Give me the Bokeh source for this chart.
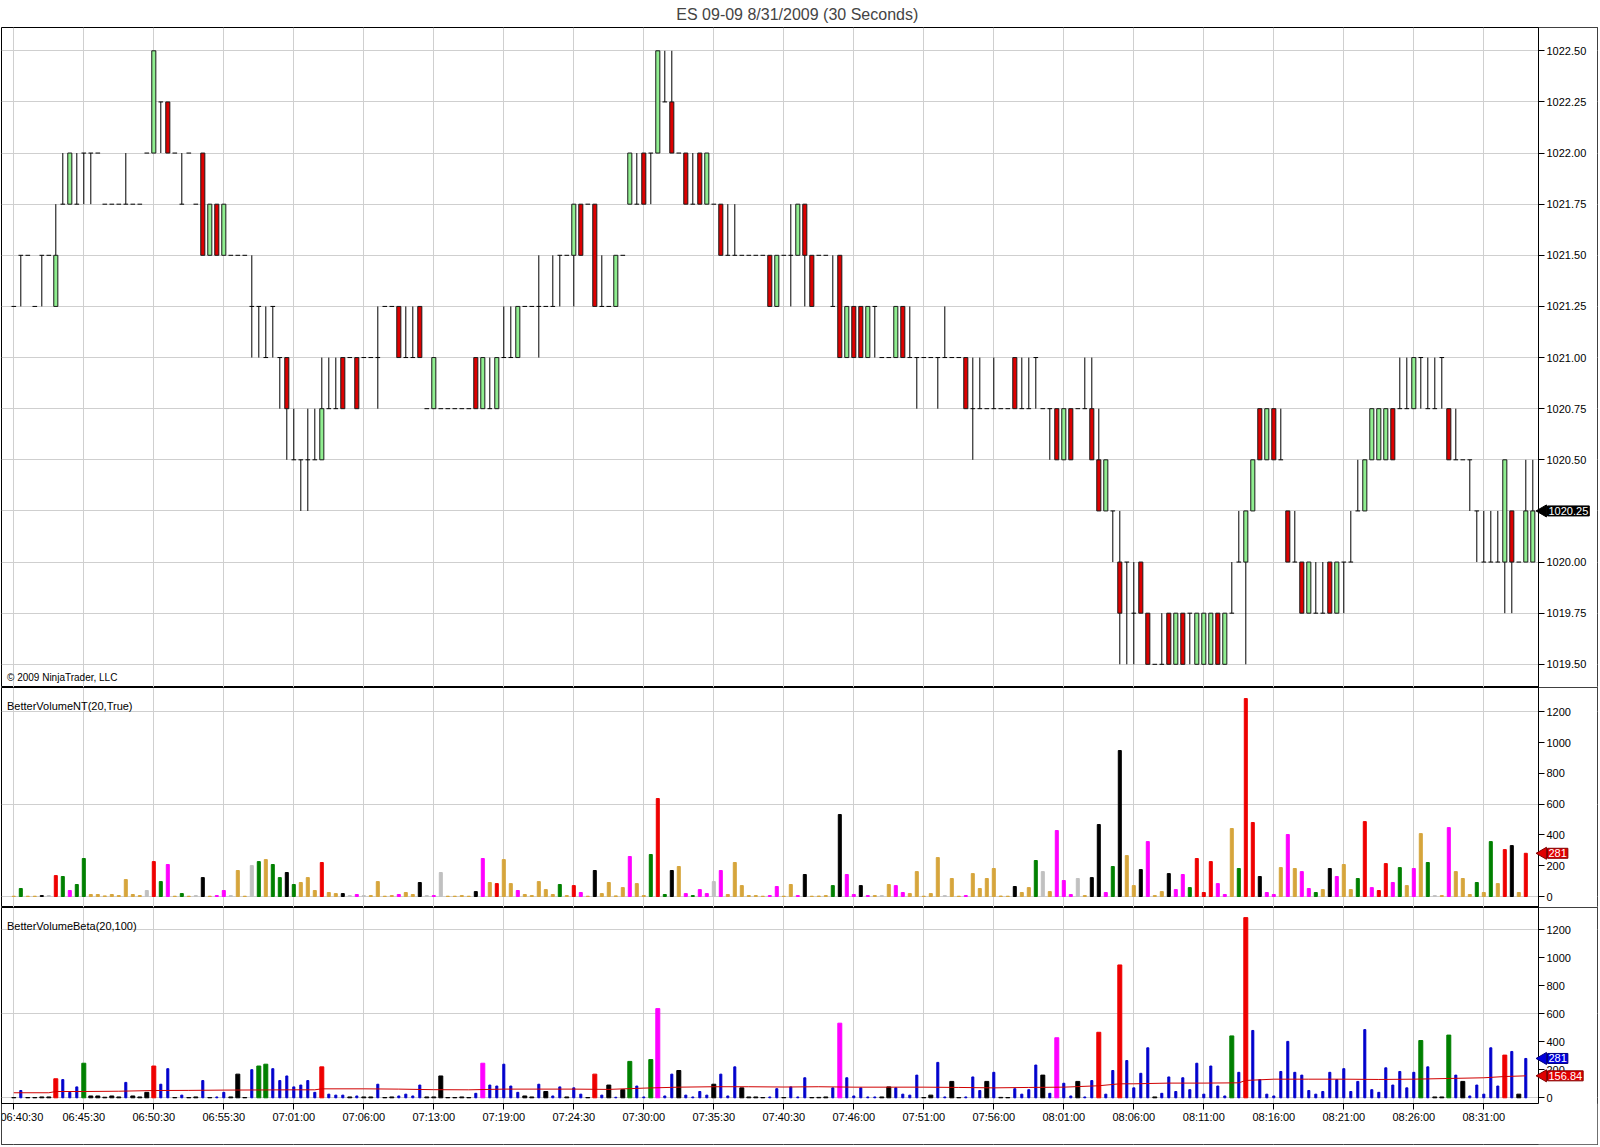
import math
from bokeh.plotting import figure
from bokeh.models import (Range1d, FixedTicker, Label, ColumnDataSource,
                          NumeralTickFormatter, BoxAnnotation)
from bokeh.layouts import column
from bokeh.embed import file_html
from bokeh.resources import INLINE

# ---------------- data ----------------
title_text = "ES 09-09  8/31/2009 (30 Seconds)"
time_labels = ["06:40:30", "06:45:30", "06:50:30", "06:55:30", "07:01:00", "07:06:00",
               "07:13:00", "07:19:00", "07:24:30", "07:30:00", "07:35:30", "07:40:30",
               "07:46:00", "07:51:00", "07:56:00", "08:01:00", "08:06:00", "08:11:00",
               "08:16:00", "08:21:00", "08:26:00", "08:31:00"]
label_bars = [0, 10, 20, 30, 40, 50, 60, 70, 80, 90, 100, 110, 120, 130, 140, 150,
              160, 170, 180, 190, 200, 210]
price_ticks = [1019.5, 1019.75, 1020.0, 1020.25, 1020.5, 1020.75, 1021.0, 1021.25,
               1021.5, 1021.75, 1022.0, 1022.25, 1022.5]
volume_ticks = [0, 200, 400, 600, 800, 1000, 1200]
volume_grid = [0, 600, 1200]

bar_open = [
    1021.25, 1021.5, 1021.5, 1021.25, 1021.5, 1021.5, 1021.25, 1021.75, 1021.75, 1021.75,
    1022.0, 1022.0, 1022.0, 1021.75, 1021.75, 1021.75, 1021.75, 1021.75, 1021.75, 1022.0,
    1022.0, 1022.25, 1022.25, 1022.0, 1021.75, 1022.0, 1021.75, 1022.0, 1021.5, 1021.75,
    1021.5, 1021.5, 1021.5, 1021.5, 1021.25, 1021.25, 1021.0, 1021.25, 1021.0, 1021.0,
    1020.5, 1020.5, 1020.5, 1020.5, 1020.5, 1020.75, 1020.75, 1021.0, 1021.0, 1021.0,
    1021.0, 1021.0, 1021.0, 1021.25, 1021.25, 1021.25, 1021.0, 1021.0, 1021.25, 1020.75,
    1020.75, 1020.75, 1020.75, 1020.75, 1020.75, 1020.75, 1021.0, 1020.75, 1020.75, 1020.75,
    1021.0, 1021.0, 1021.0, 1021.25, 1021.25, 1021.25, 1021.25, 1021.25, 1021.5, 1021.5,
    1021.5, 1021.75, 1021.75, 1021.75, 1021.25, 1021.25, 1021.25, 1021.5, 1021.75, 1021.75,
    1022.0, 1022.0, 1022.0, 1022.25, 1022.25, 1022.0, 1022.0, 1021.75, 1022.0, 1021.75,
    1021.75, 1021.75, 1021.5, 1021.5, 1021.5, 1021.5, 1021.5, 1021.5, 1021.5, 1021.25,
    1021.5, 1021.5, 1021.5, 1021.75, 1021.5, 1021.5, 1021.5, 1021.25, 1021.5, 1021.0,
    1021.25, 1021.25, 1021.0, 1021.25, 1021.0, 1021.0, 1021.0, 1021.25, 1021.0, 1021.0,
    1021.0, 1021.0, 1021.0, 1021.0, 1021.0, 1021.0, 1021.0, 1020.75, 1020.75, 1020.75,
    1020.75, 1020.75, 1020.75, 1021.0, 1020.75, 1020.75, 1021.0, 1020.75, 1020.75, 1020.75,
    1020.5, 1020.75, 1020.75, 1020.75, 1020.75, 1020.5, 1020.25, 1020.25, 1020.0, 1020.0,
    1019.75, 1020.0, 1019.75, 1019.5, 1019.5, 1019.75, 1019.5, 1019.75, 1019.75, 1019.5,
    1019.5, 1019.5, 1019.75, 1019.5, 1019.75, 1020.0, 1020.0, 1020.25, 1020.75, 1020.5,
    1020.75, 1020.5, 1020.25, 1020.0, 1020.0, 1019.75, 1019.75, 1019.75, 1020.0, 1019.75,
    1020.0, 1020.0, 1020.25, 1020.25, 1020.5, 1020.5, 1020.5, 1020.75, 1020.75, 1020.75,
    1020.75, 1021.0, 1020.75, 1020.75, 1021.0, 1020.75, 1020.5, 1020.5, 1020.5, 1020.25,
    1020.0, 1020.0, 1020.0, 1020.0, 1020.25, 1020.0, 1020.0, 1020.0]
bar_high = [
    1021.25, 1021.5, 1021.5, 1021.25, 1021.5, 1021.5, 1021.75, 1022.0, 1022.0, 1022.0,
    1022.0, 1022.0, 1022.0, 1021.75, 1021.75, 1021.75, 1022.0, 1021.75, 1021.75, 1022.0,
    1022.5, 1022.25, 1022.25, 1022.0, 1022.0, 1022.0, 1021.75, 1022.0, 1021.75, 1021.75,
    1021.75, 1021.5, 1021.5, 1021.5, 1021.5, 1021.25, 1021.25, 1021.25, 1021.0, 1021.0,
    1020.75, 1020.5, 1020.75, 1020.75, 1021.0, 1021.0, 1021.0, 1021.0, 1021.0, 1021.0,
    1021.0, 1021.0, 1021.25, 1021.25, 1021.25, 1021.25, 1021.25, 1021.25, 1021.25, 1020.75,
    1021.0, 1020.75, 1020.75, 1020.75, 1020.75, 1020.75, 1021.0, 1021.0, 1021.0, 1021.0,
    1021.25, 1021.25, 1021.25, 1021.25, 1021.25, 1021.5, 1021.25, 1021.5, 1021.5, 1021.5,
    1021.75, 1021.75, 1021.75, 1021.75, 1021.5, 1021.25, 1021.5, 1021.5, 1022.0, 1022.0,
    1022.0, 1022.0, 1022.5, 1022.5, 1022.5, 1022.0, 1022.0, 1022.0, 1022.0, 1022.0,
    1021.75, 1021.75, 1021.75, 1021.75, 1021.5, 1021.5, 1021.5, 1021.5, 1021.5, 1021.5,
    1021.5, 1021.75, 1021.75, 1021.75, 1021.5, 1021.5, 1021.5, 1021.5, 1021.5, 1021.25,
    1021.25, 1021.25, 1021.25, 1021.25, 1021.0, 1021.0, 1021.25, 1021.25, 1021.25, 1021.0,
    1021.0, 1021.0, 1021.0, 1021.25, 1021.0, 1021.0, 1021.0, 1021.0, 1021.0, 1020.75,
    1021.0, 1020.75, 1020.75, 1021.0, 1021.0, 1021.0, 1021.0, 1020.75, 1020.75, 1020.75,
    1020.75, 1020.75, 1020.75, 1021.0, 1021.0, 1020.75, 1020.5, 1020.25, 1020.25, 1020.0,
    1020.0, 1020.0, 1019.75, 1019.5, 1019.75, 1019.75, 1019.75, 1019.75, 1019.75, 1019.75,
    1019.75, 1019.75, 1019.75, 1019.75, 1020.0, 1020.25, 1020.25, 1020.5, 1020.75, 1020.75,
    1020.75, 1020.75, 1020.25, 1020.25, 1020.0, 1020.0, 1020.0, 1020.0, 1020.0, 1020.0,
    1020.0, 1020.25, 1020.5, 1020.5, 1020.75, 1020.75, 1020.75, 1020.75, 1021.0, 1021.0,
    1021.0, 1021.0, 1021.0, 1021.0, 1021.0, 1020.75, 1020.75, 1020.5, 1020.5, 1020.25,
    1020.25, 1020.25, 1020.25, 1020.5, 1020.25, 1020.0, 1020.5, 1020.5]
bar_low = [
    1021.25, 1021.25, 1021.5, 1021.25, 1021.25, 1021.5, 1021.25, 1021.75, 1021.75, 1021.75,
    1021.75, 1021.75, 1022.0, 1021.75, 1021.75, 1021.75, 1021.75, 1021.75, 1021.75, 1022.0,
    1022.0, 1022.0, 1022.0, 1022.0, 1021.75, 1022.0, 1021.75, 1021.5, 1021.5, 1021.5,
    1021.5, 1021.5, 1021.5, 1021.5, 1021.0, 1021.0, 1021.0, 1021.0, 1020.75, 1020.5,
    1020.5, 1020.25, 1020.25, 1020.5, 1020.5, 1020.75, 1020.75, 1020.75, 1021.0, 1020.75,
    1021.0, 1021.0, 1020.75, 1021.25, 1021.25, 1021.0, 1021.0, 1021.0, 1021.0, 1020.75,
    1020.75, 1020.75, 1020.75, 1020.75, 1020.75, 1020.75, 1020.75, 1020.75, 1020.75, 1020.75,
    1021.0, 1021.0, 1021.0, 1021.25, 1021.25, 1021.0, 1021.25, 1021.25, 1021.25, 1021.5,
    1021.25, 1021.5, 1021.75, 1021.25, 1021.25, 1021.25, 1021.25, 1021.5, 1021.75, 1021.75,
    1021.75, 1021.75, 1022.0, 1022.25, 1022.0, 1022.0, 1021.75, 1021.75, 1021.75, 1021.75,
    1021.75, 1021.5, 1021.5, 1021.5, 1021.5, 1021.5, 1021.5, 1021.5, 1021.25, 1021.25,
    1021.5, 1021.25, 1021.5, 1021.25, 1021.25, 1021.5, 1021.5, 1021.25, 1021.0, 1021.0,
    1021.0, 1021.0, 1021.0, 1021.0, 1021.0, 1021.0, 1021.0, 1021.0, 1021.0, 1020.75,
    1021.0, 1021.0, 1020.75, 1021.0, 1021.0, 1021.0, 1020.75, 1020.5, 1020.75, 1020.75,
    1020.75, 1020.75, 1020.75, 1020.75, 1020.75, 1020.75, 1020.75, 1020.75, 1020.5, 1020.5,
    1020.5, 1020.5, 1020.75, 1020.75, 1020.5, 1020.25, 1020.25, 1020.0, 1019.5, 1019.5,
    1019.5, 1019.75, 1019.5, 1019.5, 1019.5, 1019.5, 1019.5, 1019.5, 1019.5, 1019.5,
    1019.5, 1019.5, 1019.5, 1019.5, 1019.75, 1020.0, 1019.5, 1020.25, 1020.5, 1020.5,
    1020.5, 1020.5, 1020.0, 1020.0, 1019.75, 1019.75, 1019.75, 1019.75, 1019.75, 1019.75,
    1019.75, 1020.0, 1020.25, 1020.25, 1020.5, 1020.5, 1020.5, 1020.5, 1020.75, 1020.75,
    1020.75, 1020.75, 1020.75, 1020.75, 1020.75, 1020.5, 1020.5, 1020.5, 1020.25, 1020.0,
    1020.0, 1020.0, 1020.0, 1019.75, 1019.75, 1020.0, 1020.0, 1020.0]
bar_close = [
    1021.25, 1021.5, 1021.5, 1021.25, 1021.5, 1021.5, 1021.5, 1021.75, 1022.0, 1021.75,
    1022.0, 1022.0, 1022.0, 1021.75, 1021.75, 1021.75, 1021.75, 1021.75, 1021.75, 1022.0,
    1022.5, 1022.25, 1022.0, 1022.0, 1021.75, 1022.0, 1021.75, 1021.5, 1021.75, 1021.5,
    1021.75, 1021.5, 1021.5, 1021.5, 1021.25, 1021.25, 1021.0, 1021.25, 1021.0, 1020.75,
    1020.5, 1020.5, 1020.5, 1020.5, 1020.75, 1020.75, 1020.75, 1020.75, 1021.0, 1020.75,
    1021.0, 1021.0, 1021.0, 1021.25, 1021.25, 1021.0, 1021.0, 1021.0, 1021.0, 1020.75,
    1021.0, 1020.75, 1020.75, 1020.75, 1020.75, 1020.75, 1020.75, 1021.0, 1020.75, 1021.0,
    1021.0, 1021.0, 1021.25, 1021.25, 1021.25, 1021.25, 1021.25, 1021.25, 1021.5, 1021.5,
    1021.75, 1021.5, 1021.75, 1021.25, 1021.25, 1021.25, 1021.5, 1021.5, 1022.0, 1021.75,
    1021.75, 1022.0, 1022.5, 1022.25, 1022.0, 1022.0, 1021.75, 1021.75, 1021.75, 1022.0,
    1021.75, 1021.5, 1021.5, 1021.5, 1021.5, 1021.5, 1021.5, 1021.5, 1021.25, 1021.5,
    1021.5, 1021.5, 1021.75, 1021.5, 1021.25, 1021.5, 1021.5, 1021.25, 1021.0, 1021.25,
    1021.0, 1021.0, 1021.25, 1021.25, 1021.0, 1021.0, 1021.25, 1021.0, 1021.0, 1021.0,
    1021.0, 1021.0, 1021.0, 1021.0, 1021.0, 1021.0, 1020.75, 1020.75, 1020.75, 1020.75,
    1020.75, 1020.75, 1020.75, 1020.75, 1020.75, 1020.75, 1021.0, 1020.75, 1020.75, 1020.5,
    1020.75, 1020.5, 1020.75, 1020.75, 1020.5, 1020.25, 1020.5, 1020.25, 1019.75, 1020.0,
    1019.75, 1019.75, 1019.5, 1019.5, 1019.5, 1019.5, 1019.75, 1019.5, 1019.75, 1019.75,
    1019.75, 1019.75, 1019.5, 1019.75, 1019.75, 1020.0, 1020.25, 1020.5, 1020.5, 1020.75,
    1020.5, 1020.5, 1020.0, 1020.0, 1019.75, 1020.0, 1019.75, 1019.75, 1019.75, 1020.0,
    1020.0, 1020.0, 1020.25, 1020.5, 1020.75, 1020.75, 1020.75, 1020.5, 1020.75, 1020.75,
    1021.0, 1021.0, 1020.75, 1020.75, 1021.0, 1020.5, 1020.5, 1020.5, 1020.5, 1020.25,
    1020.0, 1020.0, 1020.0, 1020.5, 1020.0, 1020.0, 1020.25, 1020.25]

volume = [
    2, 52, 2, 2, 6, 6, 136, 130, 39, 78,
    247, 13, 13, 4, 13, 6, 110, 13, 6, 39,
    227, 97, 208, 2, 19, 2, 6, 123, 2, 6,
    39, 6, 169, 2, 201, 227, 240, 208, 123, 156,
    78, 91, 123, 39, 221, 26, 19, 19, 6, 13,
    6, 6, 97, 2, 6, 13, 26, 13, 91, 6,
    6, 156, 2, 2, 6, 2, 32, 247, 91, 84,
    240, 84, 39, 13, 6, 97, 45, 13, 78, 6,
    71, 26, 2, 169, 19, 91, 4, 58, 260, 84,
    6, 273, 637, 13, 169, 195, 19, 6, 45, 19,
    97, 169, 13, 221, 71, 6, 6, 2, 6, 65,
    2, 78, 6, 143, 2, 3, 6, 71, 533, 143,
    13, 71, 6, 6, 6, 78, 71, 26, 19, 162,
    2, 19, 253, 6, 117, 2, 6, 149, 52, 117,
    182, 3, 2, 65, 26, 58, 234, 162, 32, 429,
    104, 13, 117, 6, 123, 468, 26, 195, 949, 266,
    71, 175, 357, 6, 32, 149, 45, 143, 58, 247,
    26, 227, 84, 13, 442, 182, 1287, 481, 130, 26,
    13, 188, 403, 182, 162, 52, 26, 45, 182, 130,
    208, 45, 117, 487, 58, 39, 214, 91, 188, 71,
    182, 409, 221, 6, 6, 448, 162, 117, 13, 91,
    26, 357, 84, 305, 331, 26, 281]

# BetterVolumeNT colour class per bar (G up, R climax, M churn, K black, T low, S neutral)
nt_class = list(
    "TGTTKSRGMG" "GTTTTTTTTS" "RGMTGTSKTM" "MSTTSGTGGK" "GTTTRTTKSM"
    "STTTTMTTKS" "MSTTTTKMTR" "TTMTTTTTGT" "RMTKTTTTMT" "TGRGKTMGMM"
    "SMTTTTTTMM" "TTMKTTTGKM" "MKMTSTMMTT" "TTTSTTMTTT" "TTTKTTGSTM"
    "MMSTKKMGKT" "TKMTTKMMGR" "RRMMTGRRKM" "MTMTMMGTKM" "TTGRMRRMGT"
    "MTGSTMTTTG" "TGTRKTR")
# BetterVolumeBeta colour class per bar (B normal, R, G, M, K)
beta_class = list(
    "KBKKKKRBBB" "GKKKKKBKKK" "RBBKBKKBKB" "BKKKBGGBBB" "BBBBRBBBKB"
    "KKBKKBBBBK" "KKKKKKBMBB" "BBBKKBKBBK" "BBKRBKBKGB" "BGMBBKBBBB"
    "KBBBKKKKBB" "KBBBKKKBMB" "BBBBKKBBBB" "KKBBKKBBBK" "BKKBBBBKBM"
    "BBKBBRBBRB" "BBBKBBBBBB" "BBBBGBRBBB" "BBBBBBBBBB" "BBBBBBBBBB"
    "BGBKKGBKBB" "BBBRBKB")

ma_bar = [0, 5, 6, 10, 15, 20, 25, 30, 35, 40, 43, 44, 50, 55, 60, 65, 70, 75, 80, 85,
          90, 95, 100, 105, 110, 115, 120, 125, 130, 135, 140, 145, 150, 155, 158, 160,
          165, 170, 175, 176, 180, 185, 190, 195, 200, 205, 210, 213, 216]
ma_value = [36, 36, 45, 45, 47, 52, 53, 55, 56, 57, 57, 64, 64, 62, 58, 57, 62, 62, 62, 60,
            69, 76, 79, 79, 77, 79, 76, 76, 76, 74, 71, 74, 76, 86, 100, 100,
            105, 105, 107, 124, 133, 133, 133, 131, 133, 138, 143, 152, 156.84]

# ---------------- styling / layout ----------------
nt_palette = {"G": "#008000", "R": "#ee0000", "M": "#ff00ff", "K": "#000000",
              "T": "#d6a53c", "S": "#c0c0c0"}
beta_palette = {"B": "#0000cc", "R": "#ee0000", "G": "#008000", "M": "#ff00ff", "K": "#000000"}
GRID = "#cfcfcf"
FONT = "Liberation Sans"

W = 1598                 # whole chart width (frame spans it, axis drawn inside)
FRAME_W = W - 2          # 1px border each side
BAR_PX = 7.0
X0 = -12.3 / BAR_PX      # bar 0 sits 12.3px right of the frame edge
X1 = X0 + FRAME_W / BAR_PX
XA = X0 + 1537.0 / BAR_PX  # position of the price/volume axis line
xr = Range1d(X0, X1)

PRICE_PX = 204.5
PRICE_TOP = 1022.5 + 23.3 / PRICE_PX
PRICE_BOT = PRICE_TOP - 660.0 / PRICE_PX
V1_PX = 0.1538
V1_TOP = 209.0 / V1_PX
V1_BOT = -11.0 / V1_PX
V2_PX = 0.14
V2_TOP = 190.3 / V2_PX
V2_BOT = -46.7 / V2_PX
V2_AXIS = -6.0 / V2_PX


def make_fig(height, y0, y1, top=1, bottom=0, title=None):
    kw = dict(width=W, height=height, x_range=xr, y_range=Range1d(y0, y1),
              output_backend="svg", toolbar_location=None, tools="",
              y_axis_location="right", x_axis_location="below",
              min_border_left=1, min_border_right=1,
              min_border_top=top, min_border_bottom=bottom,
              background_fill_color="white", border_fill_color="white",
              outline_line_color="black", outline_line_width=1)
    if title is not None:
        kw["title"] = title
    p = figure(**kw)
    p.xgrid.ticker = FixedTicker(ticks=label_bars)
    p.xgrid.grid_line_color = GRID
    p.ygrid.grid_line_color = GRID
    ax = p.yaxis[0]
    ax.fixed_location = XA
    ax.axis_line_color = "black"
    ax.major_tick_out = 6
    ax.major_tick_in = 0
    ax.minor_tick_line_color = None
    ax.major_label_standoff = 2
    ax.major_label_text_font = FONT
    ax.major_label_text_font_size = "11px"
    ax.major_label_text_color = "black"
    # blank the area right of the value axis (grid lines stop at the axis)
    p.add_layout(BoxAnnotation(left=XA, fill_color="white", fill_alpha=1.0,
                               line_color=None, level="underlay"))
    return p


def tag(p, y, text, color, border):
    p.scatter(x=[XA + 4.5 / BAR_PX], y=[y], marker="triangle", size=12,
              angle=math.pi / 2, fill_color=color, line_color=border, level="annotation")
    p.add_layout(Label(x=XA, y=y, text=text, x_offset=9, text_baseline="middle",
                       text_color="white", text_font=FONT, text_font_size="11px",
                       background_fill_color=color, border_line_color=border,
                       padding=1))


# ---------------- price panel ----------------
pp = make_fig(687, PRICE_BOT, PRICE_TOP, top=27, title=title_text)
pp.xaxis.visible = False
pp.title.align = "center"
pp.title.vertical_align = "top"
pp.title.text_font = FONT
pp.title.text_font_size = "16px"
pp.title.text_font_style = "normal"
pp.title.standoff = 5
pp.title.offset = 0
pp.ygrid.ticker = FixedTicker(ticks=price_ticks)
pp.yaxis.ticker = FixedTicker(ticks=price_ticks)
pp.yaxis.formatter = NumeralTickFormatter(format="0.00")

idx = list(range(len(bar_open)))
wick = dict(x=[], lo=[], hi=[])
up = dict(x=[], top=[], bottom=[])
dn = dict(x=[], top=[], bottom=[])
doji = dict(x0=[], x1=[], y=[])
for i, o, h, l, c in zip(idx, bar_open, bar_high, bar_low, bar_close):
    if h > l:
        wick["x"].append(i); wick["lo"].append(l); wick["hi"].append(h)
    if c > o:
        up["x"].append(i); up["top"].append(c); up["bottom"].append(o)
    elif c < o:
        dn["x"].append(i); dn["top"].append(o); dn["bottom"].append(c)
    else:
        doji["x0"].append(i - 0.33); doji["x1"].append(i + 0.33); doji["y"].append(o)

pp.segment(x0="x", y0="lo", x1="x", y1="hi", source=ColumnDataSource(wick),
           line_color="black", line_width=1)
pp.vbar(x="x", top="top", bottom="bottom", width=0.58, source=ColumnDataSource(up),
        fill_color="#90ee90", line_color="#1a1a1a", line_width=1)
pp.vbar(x="x", top="top", bottom="bottom", width=0.58, source=ColumnDataSource(dn),
        fill_color="#dd0000", line_color="#1a1a1a", line_width=1)
pp.segment(x0="x0", y0="y", x1="x1", y1="y", source=ColumnDataSource(doji),
           line_color="black", line_width=1)

pp.add_layout(Label(x=X0, y=PRICE_TOP - (677.0 - 27.0) / PRICE_PX, x_offset=5.5,
                    text="\u00a9 2009 NinjaTrader, LLC", text_baseline="middle",
                    text_font=FONT, text_font_size="10px", text_color="black"))
tag(pp, bar_close[-1], "%.2f" % bar_close[-1], "black", "black")

# ---------------- BetterVolumeNT panel ----------------
vidx = list(range(len(volume)))
pv1 = make_fig(220, V1_BOT, V1_TOP, top=0)
pv1.xaxis.visible = False
pv1.ygrid.ticker = FixedTicker(ticks=volume_grid)
pv1.yaxis.ticker = FixedTicker(ticks=volume_ticks)
pv1.vbar(x=vidx, top=volume, bottom=0, width=0.43,
         color=[nt_palette[k] for k in nt_class])
pv1.add_layout(Label(x=X0, y=V1_TOP - (705.0 - 687.0) / V1_PX, x_offset=5.5,
                     text="BetterVolumeNT(20,True)", text_baseline="middle",
                     text_font=FONT, text_font_size="11px", text_color="black"))
tag(pv1, volume[-1], "%d" % volume[-1], "#e00000", "#800000")

# ---------------- BetterVolumeBeta panel ----------------
pv2 = make_fig(238, V2_BOT, V2_TOP, top=0, bottom=1)
pv2.ygrid.ticker = FixedTicker(ticks=volume_grid)
pv2.yaxis.ticker = FixedTicker(ticks=volume_ticks)
pv2.yaxis.bounds = (V2_AXIS, V2_TOP)
pv2.add_layout(BoxAnnotation(top=V2_AXIS, fill_color="white", fill_alpha=1.0,
                             line_color=None, level="underlay"))
xa = pv2.xaxis[0]
xa.fixed_location = V2_AXIS
xa.bounds = (X0, XA)
xa.ticker = FixedTicker(ticks=label_bars)
xa.major_label_overrides = {b: t for b, t in zip(label_bars, time_labels)}
xa.axis_line_color = "black"
xa.major_tick_out = 6
xa.major_tick_in = 0
xa.minor_tick_line_color = None
xa.major_label_standoff = 1
xa.major_label_text_font = FONT
xa.major_label_text_font_size = "11px"
xa.major_label_text_color = "black"

pv2.vbar(x=vidx, top=volume, bottom=0,
         width=[0.29 if k == "B" else 0.57 for k in beta_class],
         color=[beta_palette[k] for k in beta_class])
pv2.line(ma_bar, ma_value, line_color="#d00000", line_width=1)
pv2.add_layout(Label(x=X0, y=V2_TOP - (925.0 - 907.0) / V2_PX, x_offset=5.5,
                     text="BetterVolumeBeta(20,100)", text_baseline="middle",
                     text_font=FONT, text_font_size="11px", text_color="black"))
tag(pv2, volume[-1], "%d" % volume[-1], "#0000dd", "#000080")
tag(pv2, ma_value[-1], "%.2f" % ma_value[-1], "#e00000", "#800000")

layout = column(pp, pv1, pv2, spacing=0)
open("out.html", "w").write(file_html(layout, INLINE, title="ES 09-09"))
